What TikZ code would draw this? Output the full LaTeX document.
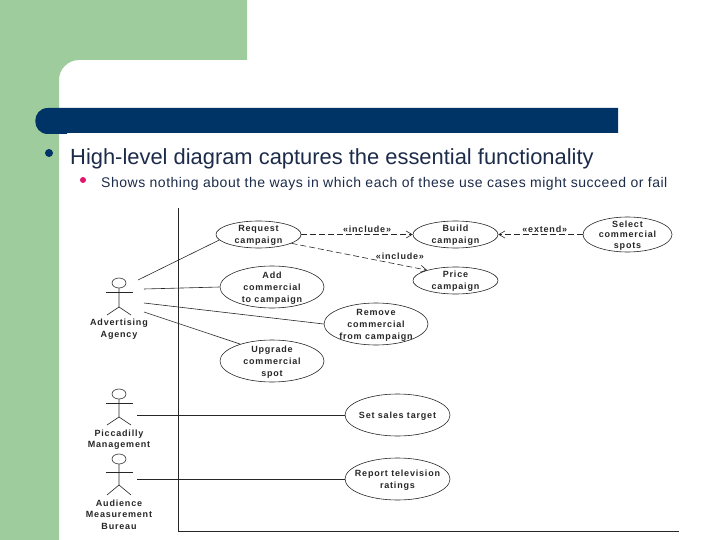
\documentclass[tikz,border=0pt]{standalone}
\usepackage{fontspec}
\setmainfont{Liberation Sans}
\newfontfamily\umlfont[LetterSpace=9]{Liberation Sans}
\newfontfamily\subfont[LetterSpace=3.7]{Liberation Sans}
\definecolor{slidegreen}{HTML}{9FCC9C}
\definecolor{slidenavy}{HTML}{003366}
\definecolor{slidepink}{HTML}{E0156B}
\definecolor{slidetext}{HTML}{1C2B4A}
\definecolor{umlgray}{HTML}{262626}
\usetikzlibrary{shapes.geometric, arrows.meta}
\tikzset{
	usecase/.style = {draw = umlgray, line width = 0.6pt, ellipse, inner sep = -10pt, text depth = 0pt, align = center, font = \umlfont\bfseries\fontsize{9}{12}\selectfont, text = umlgray},
	smallcase/.style = {usecase, minimum width = 85pt, minimum height = 27pt},
	bigcase/.style = {usecase, minimum width = 104pt, minimum height = 42pt},
	actorname/.style = {align = center, inner sep = 0pt, font = \umlfont\bfseries\fontsize{9}{11.5}\selectfont, text = umlgray},
	stereotype/.style = {font = \umlfont\bfseries\fontsize{9}{11}\selectfont, text = umlgray, inner sep = 0pt},
	assoc/.style = {draw = umlgray, line width = 0.6pt},
	dep/.style = {draw = umlgray, line width = 0.6pt, dash pattern = on 6pt off 3pt, -{Straight Barb[length = 6pt, width = 7pt]}}
}
\begin{document}
\begin{tikzpicture}[x = 1pt, y = -1pt]
	\useasboundingbox (0,0) rectangle (720,540);
	% slide background
	\fill [slidegreen] (0,0) -- (247,0) -- (247,60) -- (79,60) .. controls (68,60) and (59,69) .. (59,80) -- (59,540) -- (0,540) -- cycle;
	\fill [slidenavy] (618,108) -- (48,108) .. controls (31,108) and (31,134) .. (48,134) -- (67,134) -- (67,133) -- (618,133) -- cycle;
	\fill [slidenavy] (49,153) circle (4);
	\fill [slidepink] (83,180) circle (3);
	\node (heading) [anchor = base west, inner sep = 0pt, text = slidetext, font = \fontsize{21.9}{26}\selectfont] at (70,164.5) {High-level diagram captures the essential functionality};
	\node (subheading) [anchor = base west, inner sep = 0pt, text = slidetext, font = \subfont\fontsize{14}{16}\selectfont] at (101,188) {Shows nothing about the ways in which each of these use cases might succeed or fail};
	% system boundary
	\draw [umlgray, line width = 0.8pt] (178.5,208) -- (178.5,531.5) -- (679,531.5);
	% actors
	\foreach \headY/\armY/\hipY/\footY in {283/292/307/315, 394/403/417/425, 459/472/485/495} {
		\draw [umlgray, line width = 0.6pt] (119,\headY) ellipse (7 and 5);
		\draw [umlgray, line width = 0.6pt] (119,\headY+5) -- (119,\hipY) -- (107,\footY);
		\draw [umlgray, line width = 0.6pt] (119,\hipY) -- (131,\footY);
		\draw [umlgray, line width = 0.6pt] (106,\armY) -- (133,\armY);
	}
	\node (advertising) [actorname] at (119,329) {Advertising\\Agency};
	\node (piccadilly) [actorname] at (119,439.5) {Piccadilly\\Management};
	\node (audience) [actorname] at (119,514.5) {Audience\\Measurement\\Bureau};
	\coordinate (advTop) at (138,280);
	\coordinate (advAdd) at (144,289);
	\coordinate (advRemove) at (144,303);
	\coordinate (advUpgrade) at (144,312);
	\coordinate (picRight) at (137,415);
	\coordinate (audRight) at (137,479);
	% use cases
	\node (request) [smallcase] at (258.5,234.5) {Request\\campaign};
	\node (build) [smallcase] at (455.5,234.5) {Build\\campaign};
	\node (price) [smallcase] at (455.5,280.5) {Price\\campaign};
	\node (select) [usecase, minimum width = 89pt, minimum height = 35pt, font = \umlfont\bfseries\fontsize{9}{10.5}\selectfont] at (627.5,234.5) {Select\\commercial\\spots};
	\node (add) [bigcase] at (272,287) {Add\\commercial\\to campaign};
	\node (remove) [bigcase] at (376,324) {Remove\\commercial\\from campaign};
	\node (upgrade) [bigcase] at (272,361) {Upgrade\\commercial\\spot};
	\node (sales) [usecase, minimum width = 105pt, minimum height = 42pt] at (397.5,415) {Set sales target};
	\node (report) [usecase, minimum width = 105pt, minimum height = 42pt] at (397.5,479) {Report television\\ratings};
	% associations
	\draw [assoc] (advTop) -- (request.188);
	\draw [assoc] (advAdd) -- (add.west);
	\draw [assoc] (advRemove) -- (remove.west);
	\draw [assoc] (advUpgrade) -- (upgrade.152);
	\draw [assoc] (picRight) -- (sales.west);
	\draw [assoc] (audRight) -- (report.west);
	% dependencies
	\draw [dep] (request.east) -- node [stereotype, above = 2pt, pos = 0.59] {«include»} (build.west);
	\draw [dep] (request.345) -- node [stereotype, above = 5pt, pos = 0.8] {«include»} (price.160);
	\draw [dep] (select.west) -- node [stereotype, above = 2pt, pos = 0.45] {«extend»} (build.east);
\end{tikzpicture}
\end{document}
